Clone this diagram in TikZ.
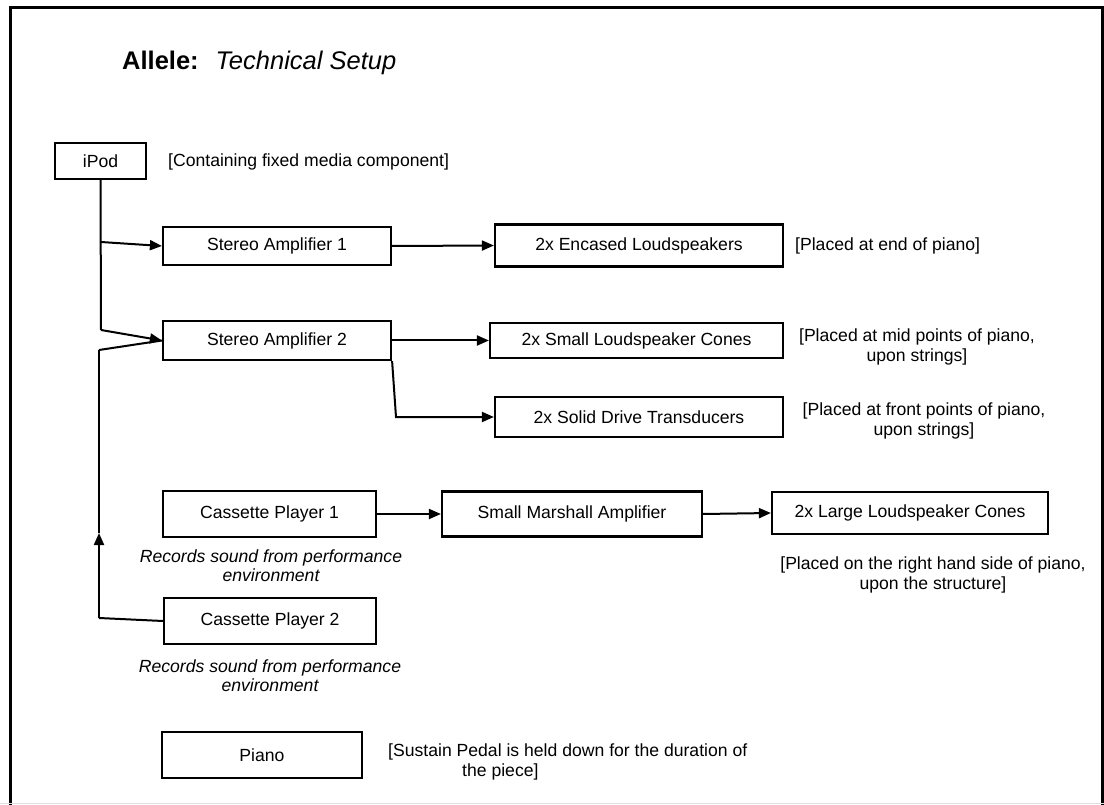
\documentclass[tikz,border=0pt]{standalone}
\usepackage{fontspec}
\setmainfont{Liberation Sans}
\usetikzlibrary{arrows.meta}

\tikzset{
	box/.style = {draw, line width=2.2pt, inner sep=0pt, align=center},
	line/.style = {line width=2pt},
	arr/.style = {line width=2pt, -{Triangle[length=12pt, width=10pt]}},
	note/.style = {inner sep=0pt, align=center}
}

\begin{document}
\begin{tikzpicture}[x=1pt, y=-1pt, font=\fontsize{17.6}{20}\selectfont]

\useasboundingbox (0,0) rectangle (1104,805);

%frame
\draw[line width=3pt] (10,806) -- (10,8) -- (1102,8) -- (1102,806);
\draw[gray!25] (0,803.5) -- (1104,803.5);

%title
\node[anchor=west, inner sep=0pt, font=\fontsize{25.5}{28}\selectfont] (title) at (122,63)
	{\textbf{Allele:}\hspace{17pt}\textit{Technical Setup}};

%boxes
\node[box, minimum width=91pt, minimum height=36pt] (ipod) at (100.5,161) {iPod};
\node[box, minimum width=228pt, minimum height=38pt] (amp1) at (277,246) {Stereo Amplifier 1};
\node[box, minimum width=228pt, minimum height=39pt] (amp2) at (277,340.5) {Stereo Amplifier 2};
\node[box, minimum width=288pt, minimum height=42pt] (encased) at (639,245.5) {2x Encased Loudspeakers};
\node[box, minimum width=293pt, minimum height=35pt] (cones) at (636.5,340.5) {2x Small Loudspeaker Cones};
\node[box, minimum width=288pt, minimum height=40pt] (solid) at (639,417) {2x Solid Drive Transducers};
\node[box, minimum width=213pt, minimum height=46pt] (cass1) at (269.5,514) {Cassette Player 1};
\node[box, minimum width=212pt, minimum height=46pt] (cass2) at (270,621) {Cassette Player 2};
\node[box, minimum width=260pt, minimum height=45pt] (marshall) at (572,514) {Small Marshall Amplifier};
\node[box, minimum width=276pt, minimum height=42pt] (large) at (910,513) {2x Large Loudspeaker Cones};
\node[box, minimum width=200pt, minimum height=46pt] (piano) at (262,755) {Piano};

%notes
\node[note, anchor=west] (ipodnote) at (168,162) {[Containing fixed media component]};
\node[note, anchor=west] (encasednote) at (795,246) {[Placed at end of piano]};
\node[note] (conesnote) at (917,347) {[Placed at mid points of piano,\\upon strings]};
\node[note] (solidnote) at (924,421) {[Placed at front points of piano,\\upon strings]};
\node[note] (largenote) at (933,575) {[Placed on the right hand side of piano,\\upon the structure]};
\node[note, font=\fontsize{17.6}{19}\selectfont\itshape] (cass1note) at (271,566)
	{Records sound from performance\\environment};
\node[note, font=\fontsize{17.6}{19}\selectfont\itshape] (cass2note) at (270,676)
	{Records sound from performance\\environment};
\node[note, anchor=west, align=left] (pianonote) at (388,762)
	{[Sustain Pedal is held down for the duration of\\\hspace*{74pt}the piece]};

%junctions
\coordinate (j1) at (101,242);
\coordinate (j2) at (101,330);
\coordinate (j3) at (99,350);
\coordinate (j4) at (99,618);
\coordinate (j5) at (99,533);
\coordinate (j6) at (396,417);

%connectors
\draw[line] (ipod.south) -- (j2);
\draw[arr] (j1) -- (amp1.west);
\draw[arr] (j2) -- (amp2.west);
\draw[line] (j3) -- (amp2.west);
\draw[line] (cass2.west) -- (j4);
\draw[arr] (j4) -- (j5);
\draw[line] (j5) -- (j3);
\draw[arr] (amp2.south east) -- (j6) -- (solid.west);
\foreach \a/\b in {amp1/encased, amp2/cones, cass1/marshall, marshall/large}
	\draw[arr] (\a.east) -- (\b.west);

\end{tikzpicture}
\end{document}
